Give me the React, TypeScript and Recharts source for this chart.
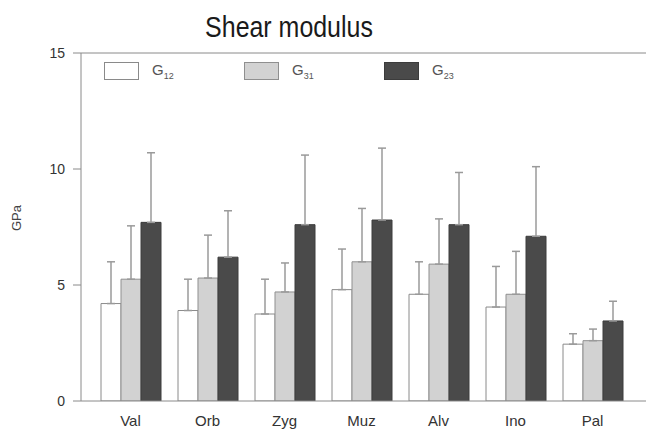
import React from "react";
import {
  BarChart,
  Bar,
  XAxis,
  YAxis,
  ErrorBar,
  Legend,
  ReferenceLine,
} from "recharts";

const categories = ["Val", "Orb", "Zyg", "Muz", "Alv", "Ino", "Pal"];

const g12 = [4.2, 3.9, 3.75, 4.8, 4.6, 4.05, 2.45];
const g12Sd = [1.8, 1.35, 1.5, 1.75, 1.4, 1.75, 0.45];

const g31 = [5.25, 5.3, 4.7, 6.0, 5.9, 4.6, 2.6];
const g31Sd = [2.3, 1.85, 1.25, 2.3, 1.95, 1.85, 0.5];

const g23 = [7.7, 6.2, 7.6, 7.8, 7.6, 7.1, 3.45];
const g23Sd = [3.0, 2.0, 3.0, 3.1, 2.25, 3.0, 0.85];

const yTicks = [0, 5, 10, 15];

const series = [
  { key: "g12", base: "G", sub: "12", fill: "#ffffff", stroke: "#8a8a8a" },
  { key: "g31", base: "G", sub: "31", fill: "#d2d2d2", stroke: "#8f8f8f" },
  { key: "g23", base: "G", sub: "23", fill: "#4a4a4a", stroke: "#3c3c3c" },
];

// errors only go up, so the lower half is 0
const data = categories.map((name, i) => ({
  name,
  g12: g12[i],
  g12Err: [0, g12Sd[i]],
  g31: g31[i],
  g31Err: [0, g31Sd[i]],
  g23: g23[i],
  g23Err: [0, g23Sd[i]],
}));

function ShearLegend() {
  return (
    <div style={{ display: "flex", width: 420 }}>
      {series.map((s) => (
        <div key={s.key} style={{ display: "flex", alignItems: "center", width: 140 }}>
          <span
            style={{
              display: "inline-block",
              width: 35,
              height: 18,
              background: s.fill,
              border: `1px solid ${s.stroke}`,
              boxSizing: "border-box",
            }}
          />
          <span style={{ marginLeft: 13, fontSize: 15, color: "#555" }}>
            {s.base}
            <sub style={{ fontSize: 9 }}>{s.sub}</sub>
          </span>
        </div>
      ))}
    </div>
  );
}

export default function App() {
  return (
    <div
      style={{
        position: "absolute",
        left: 0,
        top: 0,
        width: 646,
        height: 431,
        background: "#fff",
        fontFamily: "'Liberation Sans', Arial, sans-serif",
        overflow: "hidden",
      }}
    >
      <div
        style={{
          position: "absolute",
          left: 0,
          top: 9,
          width: 578,
          textAlign: "center",
          fontSize: 29,
          lineHeight: "36px",
          color: "#1a1a1a",
          transform: "scaleX(0.86)",
          transformOrigin: "289px 0",
        }}
      >
        Shear modulus
      </div>
      <BarChart
        width={646}
        height={431}
        data={data}
        margin={{ top: 53, right: 0, bottom: 0, left: 0 }}
        barCategoryGap={9}
        barGap={0}
      >
        <XAxis
          dataKey="name"
          height={30}
          padding={{ left: 11, right: 15 }}
          tickLine={false}
          tickSize={0}
          tickMargin={14}
          axisLine={{ stroke: "#8a8a8a" }}
          tick={{ fill: "#333", fontSize: 15 }}
        />
        <YAxis
          width={81}
          domain={[0, 15]}
          ticks={yTicks}
          allowDataOverflow
          tickSize={8}
          tickMargin={8}
          axisLine={{ stroke: "#8a8a8a" }}
          tickLine={{ stroke: "#8a8a8a" }}
          tick={{ fill: "#333", fontSize: 14 }}
          label={{
            content: () => (
              <text
                x={16}
                y={218}
                transform="rotate(-90, 16, 218)"
                textAnchor="middle"
                dominantBaseline="central"
                fontSize={13}
                fill="#444"
              >
                GPa
              </text>
            ),
          }}
        />
        <ReferenceLine y={15} stroke="#8a8a8a" />
        <Legend
          layout="horizontal"
          verticalAlign="middle"
          align="center"
          wrapperStyle={{ left: 104, top: 61, width: 420 }}
          content={() => <ShearLegend />}
        />
        {series.map((s) => (
          <Bar
            key={s.key}
            dataKey={s.key}
            fill={s.fill}
            stroke={s.stroke}
            strokeWidth={1}
            isAnimationActive={false}
          >
            <ErrorBar
              dataKey={`${s.key}Err`}
              direction="y"
              width={4}
              stroke="#9a9a9a"
              strokeWidth={1.5}
            />
          </Bar>
        ))}
      </BarChart>
    </div>
  );
}
